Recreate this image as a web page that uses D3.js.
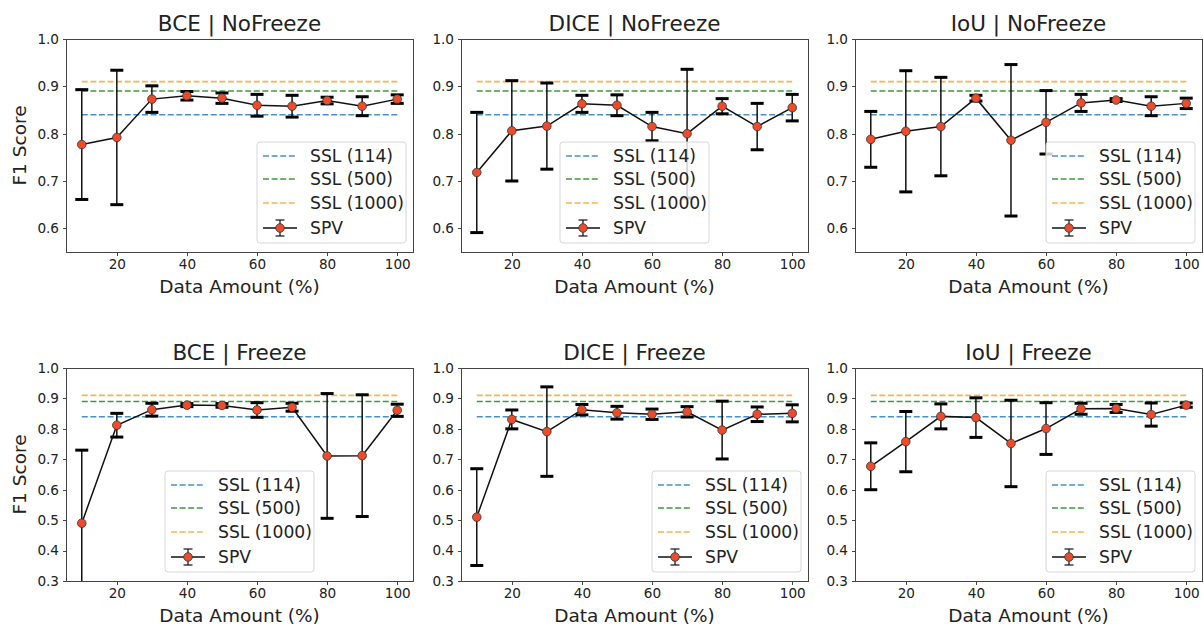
<!DOCTYPE html>
<html>
<meta charset="utf-8">
<style>
    body { margin: 0; background: #fff; }
    text { font-family: "DejaVu Sans", sans-serif; fill: #222; }
    .axis path, .axis line { stroke: #444; shape-rendering: crispEdges; }
    .axis text { font-size: 13.6px; fill: #222; font-family: "DejaVu Sans", sans-serif; }
</style>
<body>
<script src="https://d3js.org/d3.v7.min.js"></script>
<script>

    // x values shared by every panel
    var dataAmount = [10, 20, 30, 40, 50, 60, 70, 80, 90, 100];

    var panelTitles = ["BCE | NoFreeze", "DICE | NoFreeze", "IoU | NoFreeze",
                       "BCE | Freeze", "DICE | Freeze", "IoU | Freeze"];

    var sslLabels = ["SSL (114)", "SSL (500)", "SSL (1000)"];
    var sslValues = [0.84, 0.89, 0.91];
    var spvLabel = "SPV";

    var topTicks = [0.6, 0.7, 0.8, 0.9, 1.0];
    var bottomTicks = [0.3, 0.4, 0.5, 0.6, 0.7, 0.8, 0.9, 1.0];
    var xTicks = [20, 40, 60, 80, 100];

    // mean F1 and error (std) per panel
    var bceNoFreezeMean = [0.777, 0.792, 0.873, 0.880, 0.875, 0.860, 0.858, 0.870, 0.858, 0.873];
    var bceNoFreezeErr  = [0.116, 0.142, 0.028, 0.009, 0.011, 0.023, 0.023, 0.007, 0.020, 0.009];

    var diceNoFreezeMean = [0.718, 0.806, 0.816, 0.863, 0.860, 0.815, 0.800, 0.858, 0.815, 0.855];
    var diceNoFreezeErr  = [0.127, 0.106, 0.091, 0.018, 0.022, 0.030, 0.136, 0.016, 0.049, 0.028];

    var iouNoFreezeMean = [0.788, 0.805, 0.815, 0.875, 0.786, 0.824, 0.865, 0.871, 0.858, 0.864];
    var iouNoFreezeErr  = [0.059, 0.128, 0.104, 0.006, 0.160, 0.067, 0.018, 0.003, 0.020, 0.011];

    var bceFreezeMean = [0.490, 0.812, 0.863, 0.878, 0.877, 0.862, 0.871, 0.711, 0.712, 0.861];
    var bceFreezeErr  = [0.240, 0.039, 0.021, 0.005, 0.006, 0.024, 0.013, 0.205, 0.200, 0.020];

    var diceFreezeMean = [0.510, 0.831, 0.791, 0.863, 0.853, 0.848, 0.856, 0.796, 0.848, 0.851];
    var diceFreezeErr  = [0.159, 0.031, 0.147, 0.017, 0.021, 0.017, 0.017, 0.095, 0.024, 0.028];

    var iouFreezeMean = [0.677, 0.758, 0.841, 0.837, 0.752, 0.801, 0.866, 0.867, 0.847, 0.878];
    var iouFreezeErr  = [0.077, 0.099, 0.041, 0.065, 0.142, 0.085, 0.018, 0.013, 0.038, 0.007];

    var means = [bceNoFreezeMean, diceNoFreezeMean, iouNoFreezeMean,
                 bceFreezeMean, diceFreezeMean, iouFreezeMean];
    var errs = [bceNoFreezeErr, diceNoFreezeErr, iouNoFreezeErr,
                bceFreezeErr, diceFreezeErr, iouFreezeErr];

    // legend placement: "right" = lower right, "center" = lower center
    var legendLoc = ["right", "center", "right", "center", "right", "right"];

    var sslColors = ["#4a90c8", "#3d9a3d", "#f7b548"];
    var markerFill = "#ee4b2b";

    var lefts = [66, 461, 855],
        tops = [39, 368],
        width = 347,
        height = 213;

    var svg = d3.select("body")
        .append("svg")
        .attr("width", 1204)
        .attr("height", 628);

    var x = d3.scaleLinear()
        .domain([5.5, 104.5])
        .range([0, width]);

    panelTitles.forEach(function(title, i) {
        var col = i % 3, row = Math.floor(i / 3);
        var y = d3.scaleLinear()
            .domain(row === 0 ? [0.55, 1.0] : [0.3, 1.0])
            .range([height, 0]);

        var g = svg.append("g")
            .attr("transform", "translate(" + lefts[col] + "," + tops[row] + ")");

        g.append("clipPath")
            .attr("id", "clip" + i)
            .append("rect")
            .attr("width", width)
            .attr("height", height);

        var plot = g.append("g").attr("clip-path", "url(#clip" + i + ")");

        // SSL reference lines
        sslValues.forEach(function(v, k) {
            plot.append("line")
                .attr("x1", x(dataAmount[0]))
                .attr("x2", x(dataAmount[dataAmount.length - 1]))
                .attr("y1", y(v))
                .attr("y2", y(v))
                .attr("stroke", sslColors[k])
                .attr("stroke-width", 1.6)
                .attr("stroke-dasharray", "6,2.6");
        });

        var pts = dataAmount.map(function(d, k) {
            return {x: d, m: means[i][k], e: errs[i][k]};
        });

        // error bars
        var eb = plot.selectAll(".eb")
            .data(pts)
            .enter()
            .append("g");

        eb.append("line")
            .attr("x1", function(d) { return x(d.x); })
            .attr("x2", function(d) { return x(d.x); })
            .attr("y1", function(d) { return y(d.m - d.e); })
            .attr("y2", function(d) { return y(d.m + d.e); })
            .attr("stroke", "#111")
            .attr("stroke-width", 1.5);

        [-1, 1].forEach(function(s) {
            eb.append("line")
                .attr("x1", function(d) { return x(d.x) - 6.5; })
                .attr("x2", function(d) { return x(d.x) + 6.5; })
                .attr("y1", function(d) { return y(d.m + s * d.e); })
                .attr("y2", function(d) { return y(d.m + s * d.e); })
                .attr("stroke", "#000")
                .attr("stroke-width", 3);
        });

        plot.append("path")
            .datum(pts)
            .attr("fill", "none")
            .attr("stroke", "#111")
            .attr("stroke-width", 1.5)
            .attr("d", d3.line()
                .x(function(d) { return x(d.x); })
                .y(function(d) { return y(d.m); }));

        plot.selectAll("circle")
            .data(pts)
            .enter()
            .append("circle")
            .attr("cx", function(d) { return x(d.x); })
            .attr("cy", function(d) { return y(d.m); })
            .attr("r", 4.3)
            .attr("fill", markerFill)
            .attr("stroke", "#333")
            .attr("stroke-width", 0.8);

        // axes
        g.append("g")
            .attr("class", "axis")
            .attr("transform", "translate(0," + height + ")")
            .call(d3.axisBottom(x).tickValues(xTicks).tickSize(3.5).tickPadding(4).tickSizeOuter(0))
            .select(".domain").remove();

        g.append("g")
            .attr("class", "axis")
            .call(d3.axisLeft(y).tickValues(row === 0 ? topTicks : bottomTicks)
                .tickFormat(d3.format(".1f")).tickSize(3.5).tickPadding(3.5).tickSizeOuter(0))
            .select(".domain").remove();

        g.append("rect")
            .attr("width", width)
            .attr("height", height)
            .attr("fill", "none")
            .attr("stroke", "#444")
            .attr("stroke-width", 1)
            .attr("shape-rendering", "crispEdges");

        g.append("text")
            .attr("x", width / 2)
            .attr("y", -8)
            .attr("text-anchor", "middle")
            .style("font-size", "21.5px")
            .text(title);

        g.append("text")
            .attr("x", width / 2)
            .attr("y", height + 41)
            .attr("text-anchor", "middle")
            .style("font-size", "18.5px")
            .text("Data Amount (%)");

        if (col === 0) {
            g.append("text")
                .attr("transform", "translate(-40," + (height / 2) + ") rotate(-90)")
                .attr("text-anchor", "middle")
                .style("font-size", "18.5px")
                .text("F1 Score");
        }

        // legend
        var lw = 149, lh = 101;
        var lx = legendLoc[i] === "right" ? width - 7 - lw : (width - lw) / 2;
        var leg = g.append("g")
            .attr("transform", "translate(" + lx + "," + (height - 9 - lh) + ")");

        leg.append("rect")
            .attr("width", lw)
            .attr("height", lh)
            .attr("rx", 3)
            .attr("fill", "#fff")
            .attr("fill-opacity", 0.8)
            .attr("stroke", "#d6d6d6")
            .attr("stroke-width", 1);

        var rowY = [14, 37, 61, 86];
        sslLabels.forEach(function(lab, k) {
            leg.append("line")
                .attr("x1", 6).attr("x2", 40)
                .attr("y1", rowY[k]).attr("y2", rowY[k])
                .attr("stroke", sslColors[k])
                .attr("stroke-width", 1.6)
                .attr("stroke-dasharray", "6,2.6");
            leg.append("text")
                .attr("x", 53)
                .attr("y", rowY[k])
                .attr("dy", "0.36em")
                .style("font-size", "17.2px")
                .text(lab);
        });

        var sy = rowY[3];
        leg.append("line").attr("x1", 6).attr("x2", 40).attr("y1", sy).attr("y2", sy)
            .attr("stroke", "#111").attr("stroke-width", 1.5);
        leg.append("line").attr("x1", 23).attr("x2", 23).attr("y1", sy - 8).attr("y2", sy + 8)
            .attr("stroke", "#111").attr("stroke-width", 1.2);
        [-8, 8].forEach(function(o) {
            leg.append("line").attr("x1", 18.5).attr("x2", 27.5).attr("y1", sy + o).attr("y2", sy + o)
                .attr("stroke", "#111").attr("stroke-width", 1.2);
        });
        leg.append("circle").attr("cx", 23).attr("cy", sy).attr("r", 4.3)
            .attr("fill", markerFill).attr("stroke", "#333").attr("stroke-width", 0.8);
        leg.append("text")
            .attr("x", 53)
            .attr("y", sy)
            .attr("dy", "0.36em")
            .style("font-size", "17.2px")
            .text(spvLabel);
    });

</script>
</body>
</html>
